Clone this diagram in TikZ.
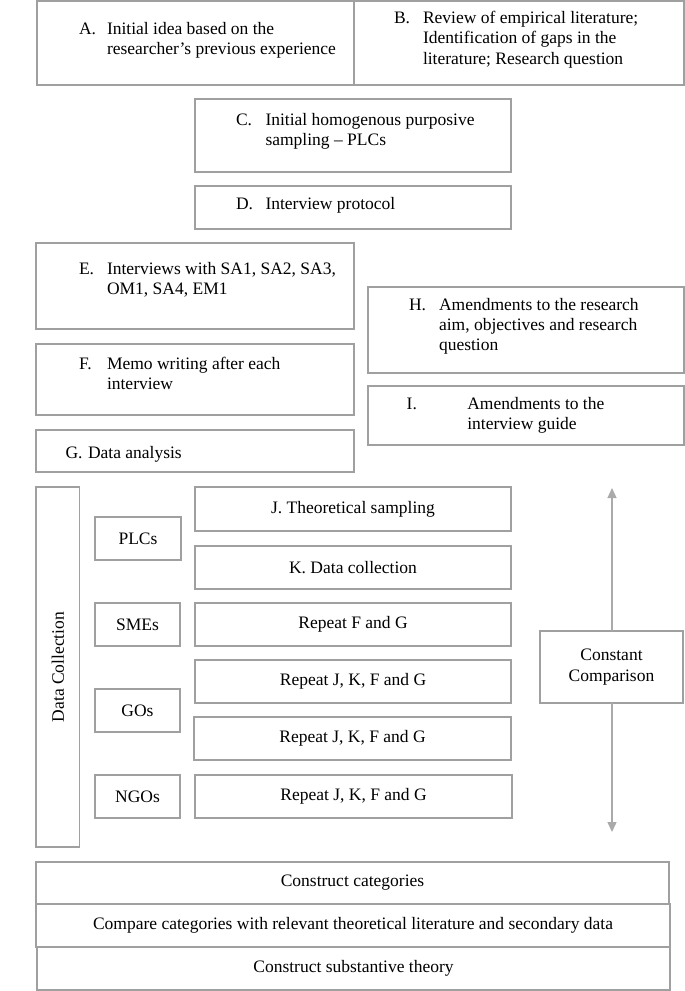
\documentclass[tikz,border=0pt]{standalone}
\usepackage{fontspec}
\setmainfont{Liberation Serif}
\usetikzlibrary{arrows.meta}
\definecolor{boxc}{RGB}{160,160,160}
\definecolor{arrc}{RGB}{170,170,170}
\begin{document}
\begin{tikzpicture}[x=1pt,y=-1pt,
  box/.style={draw=boxc, line width=1.3pt, inner sep=0pt, outer sep=0pt, anchor=north west},
  txt/.style={inner sep=0pt, outer sep=0pt, anchor=base west},
  ctxt/.style={inner sep=0pt, outer sep=0pt, align=center},
  font=\fontsize{17.5}{20.3}\selectfont]
\useasboundingbox (0,0) rectangle (685,991);
\newcommand{\bx}[5]{\node[box, minimum width=#4pt, minimum height=#5pt] (#1) at (#2,#3) {};}
% top boxes
\bx{A}{37}{1}{317}{84}
\bx{B}{354}{1}{330}{84}
\bx{C}{195}{99}{316}{73}
\bx{D}{195}{186}{316}{43}
\bx{E}{36}{243}{318}{86}
\bx{F}{36}{344}{318}{71}
\bx{G}{36}{430}{318}{42}
\bx{H}{368}{287}{316}{86}
\bx{I}{368}{386}{316}{59}
% texts
\node[txt] (Al) at (79,34) {A.};
\node[txt] (At) at (107,34) {\begin{tabular}[t]{@{}l@{}}Initial idea based on the\\researcher's previous experience\end{tabular}};
\node[txt] (Bl) at (394,23.5) {B.};
\node[txt] (Bt) at (423,23.5) {\begin{tabular}[t]{@{}l@{}}Review of empirical literature;\\Identification of gaps in the\\literature; Research question\end{tabular}};
\node[txt] (Cl) at (236,125) {C.};
\node[txt] (Ct) at (265.5,125) {\begin{tabular}[t]{@{}l@{}}Initial homogenous purposive\\sampling -- PLCs\end{tabular}};
\node[txt] (Dl) at (236,209) {D.};
\node[txt] (Dt) at (265.5,209) {Interview protocol};
\node[txt] (El) at (79,274) {E.};
\node[txt] (Et) at (107,274) {\begin{tabular}[t]{@{}l@{}}Interviews with SA1, SA2, SA3,\\OM1, SA4, EM1\end{tabular}};
\node[txt] (Fl) at (79,369.5) {F.};
\node[txt] (Ft) at (107,369.5) {\begin{tabular}[t]{@{}l@{}}Memo writing after each\\interview\end{tabular}};
\node[txt] (Gl) at (65.5,458) {G.};
\node[txt] (Gt) at (88,458) {Data analysis};
\node[txt] (Hl) at (409,310.3) {H.};
\node[txt] (Ht) at (439,310.3) {\begin{tabular}[t]{@{}l@{}}Amendments to the research\\aim, objectives and research\\question\end{tabular}};
\node[txt] (Il) at (406.7,409.5) {I.};
\node[txt] (It) at (467.3,409.5) {\begin{tabular}[t]{@{}l@{}}Amendments to the\\interview guide\end{tabular}};
% data collection block
\bx{DC}{36}{487}{43.5}{360}
\node[rotate=90, inner sep=0pt] (DCt) at (58,667) {Data Collection};
\bx{PLC}{95}{517}{86}{43}
\bx{SME}{95}{603}{85}{43}
\bx{GO}{95}{689}{85}{43}
\bx{NGO}{95}{775}{85}{43}
\node[ctxt] (PLCt) at (PLC.center) {PLCs};
\node[ctxt] (SMEt) at (SME.center) {SMEs};
\node[ctxt] (GOt) at (GO.center) {GOs};
\node[ctxt] (NGOt) at (NGO.center) {NGOs};
\bx{J}{195}{487}{316}{44}
\bx{K}{195}{546}{316}{43}
\bx{R0}{195}{603}{316}{43}
\bx{R1}{195}{660}{316}{43}
\bx{R2}{194}{717}{317}{43}
\bx{R3}{195}{775}{317}{43}
\node[ctxt] (Jt) at (J.center) {J. Theoretical sampling};
\node[ctxt] (Kt) at (K.center) {K. Data collection};
\node[ctxt] (R0t) at (R0.center) {Repeat F and G};
\node[ctxt] (R1t) at (R1.center) {Repeat J, K, F and G};
\node[ctxt] (R2t) at (R2.center) {Repeat J, K, F and G};
\node[ctxt] (R3t) at (R3.center) {Repeat J, K, F and G};
% constant comparison
\bx{CC}{540}{631}{143}{72}
\node[ctxt] (CCt) at (CC.center) {Constant\\Comparison};
\coordinate (up) at (612,488);
\coordinate (dn) at (612,832);
\draw[arrc, line width=1.3pt, -{Triangle[width=9pt,length=10pt]}] (CC.north -| up) -- (up);
\draw[arrc, line width=1.3pt, -{Triangle[width=9pt,length=10pt]}] (CC.south -| dn) -- (dn);
% bottom
\bx{Cat}{36}{862}{633}{42}
\bx{Cmp}{36}{904}{634}{43}
\bx{Sub}{37}{947}{633}{43}
\node[ctxt] (Catt) at (Cat.center) {Construct categories};
\node[ctxt] (Cmpt) at (Cmp.center) {Compare categories with relevant theoretical literature and secondary data};
\node[ctxt] (Subt) at (Sub.center) {Construct substantive theory};
\end{tikzpicture}
\end{document}
